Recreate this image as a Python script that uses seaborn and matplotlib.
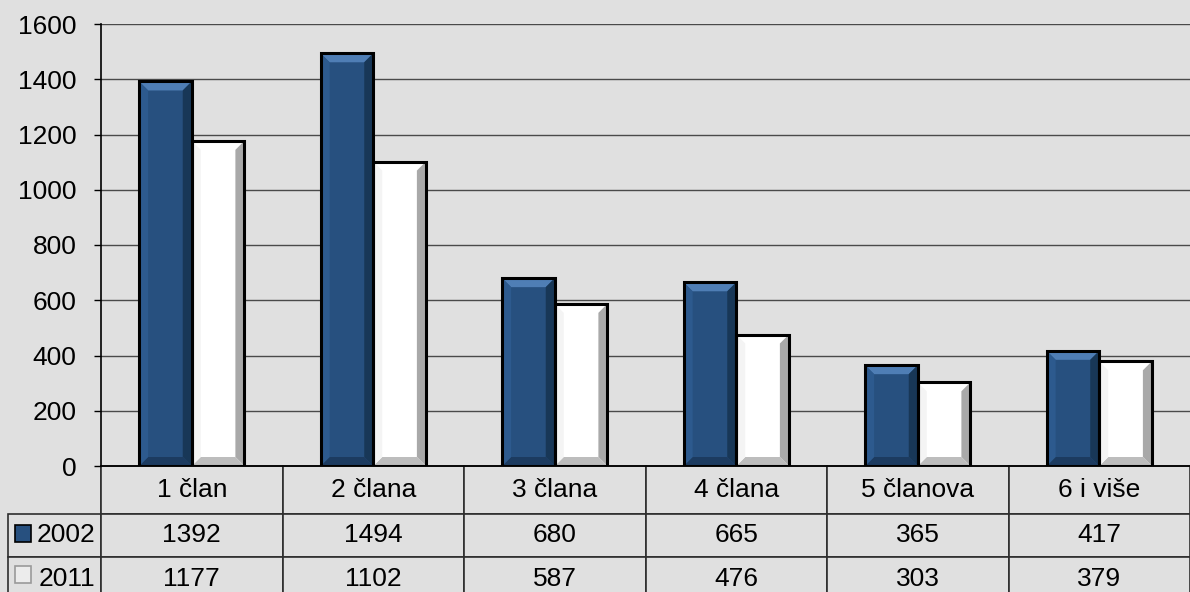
import pandas as pd
import matplotlib
matplotlib.use('Agg')
import matplotlib.pyplot as plt
from matplotlib.patches import Polygon, Rectangle
import seaborn as sns

# podaci
categories = ['1 član', '2 člana', '3 člana', '4 člana', '5 članova', '6 i više']
years = ['2002', '2011']
vals_2002 = [1392, 1494, 680, 665, 365, 417]
vals_2011 = [1177, 1102, 587, 476, 303, 379]
y_ticks = [0, 200, 400, 600, 800, 1000, 1200, 1400, 1600]

BG = '#e0e0e0'
BLUE = '#27507f'

sns.set_theme(style='white', rc={
    'axes.facecolor': BG,
    'figure.facecolor': BG,
    'text.color': 'black',
    'ytick.color': 'black',
})
plt.rcParams['font.family'] = ['Liberation Sans', 'DejaVu Sans']

df = pd.DataFrame({
    'kat': categories * 2,
    'god': [years[0]] * len(categories) + [years[1]] * len(categories),
    'n': vals_2002 + vals_2011,
})

W, H = 1190, 592
fig = plt.figure(figsize=(W / 100, H / 100), dpi=100)
ax = fig.add_axes([101 / W, 126 / H, 1089 / W, 442 / H])

sns.barplot(data=df, x='kat', y='n', hue='god', hue_order=years,
            palette=[BLUE, 'white'], saturation=1, width=0.58,
            edgecolor='black', linewidth=2, legend=False, ax=ax, zorder=3)

ax.set_xlim(-0.5, len(categories) - 0.5)
ax.set_ylim(0, 1600)
ax.set_yticks(y_ticks)
ax.set_xticks([])
ax.set_xlabel('')
ax.set_ylabel('')
ax.tick_params(axis='y', labelsize=19, length=5, width=1, direction='out', left=True, pad=12.5)
ax.yaxis.grid(True, color='#4a4a4a', linewidth=1, zorder=0)
ax.set_axisbelow(True)
for s in ['top', 'right']:
    ax.spines[s].set_visible(False)
ax.spines['left'].set_color('black')
ax.spines['bottom'].set_color('black')
ax.spines['left'].set_linewidth(1.2)
ax.spines['bottom'].set_linewidth(1.2)

# bevel efekt na stupcima
px_x = (len(categories)) / 1089
px_y = 1600 / 442
b = 9
for p in list(ax.patches):
    x, w, h = p.get_x(), p.get_width(), p.get_height()
    dx, dy = b * px_x, b * px_y
    is_blue = p.get_facecolor()[2] < 0.9
    if is_blue:
        top, right, bottom, left = '#4f7eb5', '#183757', '#1c3b60', '#2d5a8e'
    else:
        top, right, bottom, left = '#ffffff', '#a9a9a9', '#bdbdbd', '#f4f4f4'
    dy_eff = min(dy, h / 2)
    polys = [
        ([(x, h), (x + w, h), (x + w - dx, h - dy_eff), (x + dx, h - dy_eff)], top),
        ([(x + w, h), (x + w, 0), (x + w - dx, dy_eff), (x + w - dx, h - dy_eff)], right),
        ([(x, 0), (x + w, 0), (x + w - dx, dy_eff), (x + dx, dy_eff)], bottom),
        ([(x, 0), (x, h), (x + dx, h - dy_eff), (x + dx, dy_eff)], left),
    ]
    for pts, c in polys:
        ax.add_patch(Polygon(pts, closed=True, fc=c, ec='none', zorder=4))
    ax.add_patch(Rectangle((x, 0), w, h, fill=False, ec='black', lw=2.2, zorder=5))

# tablica s podacima (prvi stupac = oznake godina)
cell_text = [[years[0]] + [str(v) for v in vals_2002],
             [years[1]] + [str(v) for v in vals_2011]]
tab = ax.table(cellText=cell_text, colLabels=[''] + categories,
               cellLoc='center', colLoc='center',
               colWidths=[93 / 1089] + [1 / 6] * 6,
               bbox=[-93 / 1089, -134 / 442, 1 + 93 / 1089, 134 / 442])
tab.auto_set_font_size(False)
tab.set_fontsize(19)
for (r, c), cell in tab.get_celld().items():
    cell.set_facecolor(BG)
    cell.set_edgecolor('#2e2e2e')
    cell.set_linewidth(1.2)
    cell.set_height(48 if r == 0 else 43)
    if c == 0:
        cell._loc = 'right'
        cell.PAD = 0.06
        cell.get_text().set_horizontalalignment('right')
        if r == 0:
            cell.visible_edges = 'R'

# oznake legende u tablici
fig.add_artist(Rectangle((15 / W, 1 - 542 / H), 16 / W, 17 / H, transform=fig.transFigure,
                         fc=BLUE, ec='black', lw=1.2))
fig.add_artist(Rectangle((15 / W, 1 - 583 / H), 16 / W, 17 / H, transform=fig.transFigure,
                         fc='#ececec', ec='#9a9a9a', lw=1.2))

fig.savefig('out.png', dpi=100, facecolor=BG)
